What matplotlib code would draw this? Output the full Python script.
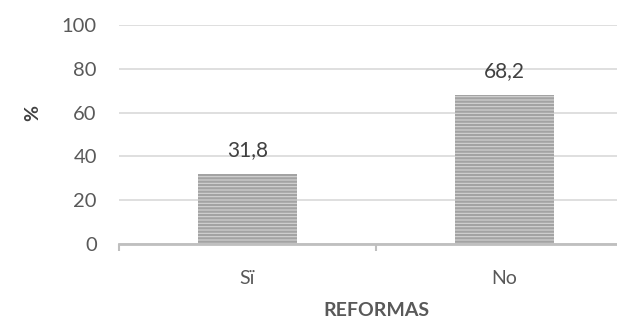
import matplotlib
matplotlib.use("Agg")
import matplotlib.pyplot as plt

categories = ["Sï", "No"]
values = [31.8, 68.2]
value_labels = ["31,8", "68,2"]
yticks = [0, 20, 40, 60, 80, 100]

plt.rcParams['font.family'] = ['Lato', 'DejaVu Sans']
plt.rcParams['hatch.linewidth'] = 1.6

fig = plt.figure(figsize=(6.17, 3.24), dpi=100)
ax = fig.add_axes([119/617, 80/324, 514/617, 219/324])

x = list(range(len(categories)))
ax.bar(x, values, width=0.385, color='#d4d4d4', edgecolor='#a3a3a3',
       linewidth=0, hatch='-----', zorder=3)

for xi, v, lab in zip(x, values, value_labels):
    ax.annotate(lab, (xi, v), xytext=(0, 10), textcoords='offset points',
                ha='center', va='bottom', fontsize=15, color='#404040')

ax.set_xlim(-0.5, 1.5)
ax.set_ylim(0, 100)
ax.set_yticks(yticks)
ax.set_yticklabels([str(t) for t in yticks], fontsize=14.5, color='#595959')
ax.yaxis.grid(True, color='#d9d9d9', linewidth=1.2, zorder=0)
ax.tick_params(axis='y', length=0, pad=16)

ax.set_xticks([-0.5, 0.5, 1.5], minor=False)
ax.set_xticklabels([])
ax.tick_params(axis='x', which='major', length=5, width=1.5, color='#bfbfbf')
ax.set_xticks(x, minor=True)
ax.set_xticklabels(categories, minor=True, fontsize=14, color='#595959')
ax.tick_params(axis='x', which='minor', length=0, pad=19)

for s in ['top', 'right', 'left']:
    ax.spines[s].set_visible(False)
ax.spines['bottom'].set_color('#bfbfbf')
ax.spines['bottom'].set_linewidth(2)
ax.spines['bottom'].set_zorder(4)

fig.text(33/617, 1 - 113/324, '%', rotation=90, fontsize=14, fontweight='bold',
         color='#404040', ha='center', va='center')
fig.text(376/617, 1 - 311/324, 'REFORMAS', fontsize=14, fontweight='bold',
         color='#595959', ha='center', va='center')

fig.savefig('out.png', dpi=100)
